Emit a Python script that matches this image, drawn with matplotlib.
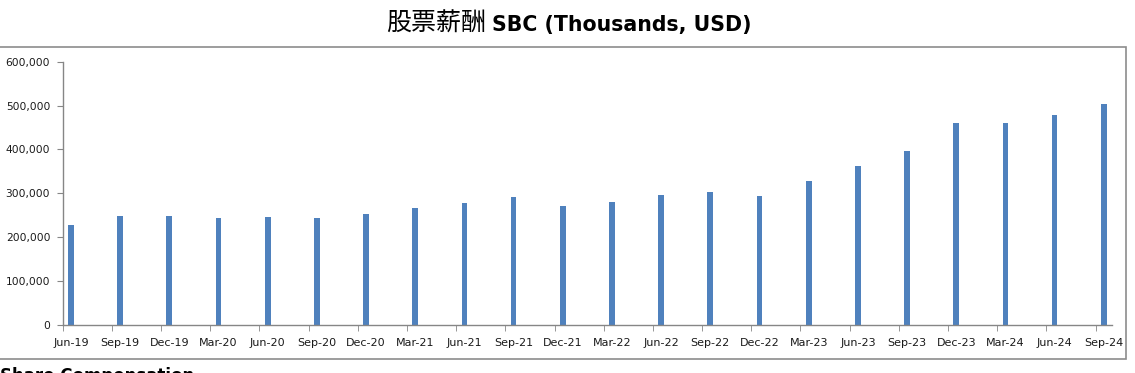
import matplotlib.pyplot as plt
from matplotlib.patches import Rectangle
from matplotlib.ticker import FuncFormatter, FixedLocator

plt.rcParams['font.family'] = ['DejaVu Sans']

# quarters and SBC (thousands USD)
quarters = ['Jun-19', 'Sep-19', 'Dec-19', 'Mar-20', 'Jun-20', 'Sep-20', 'Dec-20',
            'Mar-21', 'Jun-21', 'Sep-21', 'Dec-21', 'Mar-22', 'Jun-22', 'Sep-22',
            'Dec-22', 'Mar-23', 'Jun-23', 'Sep-23', 'Dec-23', 'Mar-24', 'Jun-24',
            'Sep-24']
sbc = [228000, 248000, 248000, 244000, 246000, 244000, 253000,
       267000, 278000, 292000, 271000, 280000, 296000, 303000,
       294000, 328000, 362000, 396000, 460000, 460000, 478000,
       503000]
y_ticks = [0, 100000, 200000, 300000, 400000, 500000, 600000]

# date axis in months: one bar per quarter, sitting in its first month slot
months = [3 * i for i in range(len(quarters))]

W, H = 1135, 373
fig = plt.figure(figsize=(W / 100, H / 100), dpi=100)
ax = fig.add_axes([62.7 / W, (H - 325) / H, (1112 - 62.7) / W, (325 - 61.7) / H])

ax.bar(months, sbc, width=0.35, color='#4F81BD')

ax.set_xlim(-0.5, 63.5)
ax.set_ylim(0, 600000)
ax.set_yticks(y_ticks)
ax.yaxis.set_major_formatter(FuncFormatter(lambda v, p: f'{int(v):,}'))

# labels under each bar, tick marks on the quarter boundaries
ax.set_xticks(months)
ax.set_xticklabels(quarters)
ax.tick_params(axis='x', which='major', length=0, pad=9, labelsize=8, labelcolor='#1a1a1a')
ax.xaxis.set_minor_locator(FixedLocator([m - 0.5 for m in months]))
ax.tick_params(axis='x', which='minor', length=4, color='#868686', direction='out')
ax.tick_params(axis='y', length=4, color='#868686', labelsize=7.7, labelcolor='#1a1a1a', pad=5)

for s in ['top', 'right']:
    ax.spines[s].set_visible(False)
for s in ['left', 'bottom']:
    ax.spines[s].set_color('#868686')
    ax.spines[s].set_linewidth(1.0)

# outer frame of the chart area
fig.patches.append(Rectangle((-0.01, (H - 359) / H), (1126 + 11) / W, (359 - 47) / H,
                             transform=fig.transFigure, fill=False,
                             edgecolor='#8c8c8c', linewidth=1.2))

# title: CJK part + bold latin part
fig.text(486 / W, 1 - 24 / H, '股票薪酬', family=['Noto Sans CJK SC', 'DejaVu Sans'],
         fontsize=18, ha='right', va='center')
fig.text(492 / W, 1 - 25 / H, 'SBC (Thousands, USD)', family=['DejaVu Sans'],
         fontsize=14.8, fontweight='bold', ha='left', va='center')

# cut-off caption at the bottom
fig.text(0 / W, 1 - 367 / H, 'Share Compensation', fontsize=12, fontweight='bold',
         ha='left', va='top')

fig.savefig('out.png', dpi=100)
